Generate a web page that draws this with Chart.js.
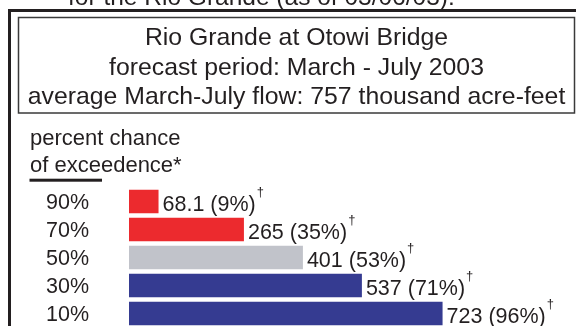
<!DOCTYPE html>
<html>
<head>
<meta charset="utf-8">
<script src="https://cdn.jsdelivr.net/npm/chart.js@4/dist/chart.umd.min.js"></script>
<style>
html,body{margin:0;padding:0;background:#fff;overflow:hidden;width:576px;height:326px}
#wrap{position:relative;width:576px;height:340px}
canvas{display:block}
</style>
</head>
<body>
<div id="wrap"><canvas id="c"></canvas></div>
<script>
// ---- data ----
const categories = ['90%', '70%', '50%', '30%', '10%'];
const flows = [68.1, 265, 401, 537, 723];               // thousand acre-feet
const percentOfAverage = [9, 35, 53, 71, 96];           // % of 757 average
const barColors = ['#EC2A2E', '#EC2A2E', '#C1C3CA', '#353B91', '#353B91'];
const titleLines = ['Rio Grande at Otowi Bridge', 'forecast period: March - July 2003', 'average March-July flow: 757 thousand acre-feet'];
const captionText = 'for the Rio Grande (as of 03/06/03):';
const headerLines = ['percent chance', 'of exceedence*'];
const footMark = '\u2020';

const FONT = '"Liberation Sans", Arial, Helvetica, sans-serif';
const INK = '#231F20';

const decor = {
  id: 'decor',
  beforeDraw(chart) {
    const ctx = chart.ctx;
    ctx.save();
    ctx.fillStyle = '#fff';
    ctx.fillRect(0, 0, chart.width, chart.height);
    ctx.fillStyle = INK;
    ctx.font = '24.5px ' + FONT;
    ctx.textAlign = 'left';
    ctx.textBaseline = 'alphabetic';
    ctx.fillText(captionText, 68, 5);
    // outer frame
    ctx.fillRect(8, 9, 3, chart.height);
    ctx.fillRect(8, 9, chart.width, 3);
    // inner title box
    ctx.strokeStyle = '#3a3a3a';
    ctx.lineWidth = 1.5;
    ctx.strokeRect(18.5, 17.5, 556, 95.5);
    ctx.textAlign = 'center';
    ctx.font = '24.8px ' + FONT;
    [44.5, 74.5, 104].forEach((y, i) => ctx.fillText(titleLines[i], 296.5, y));
    // header
    ctx.textAlign = 'left';
    ctx.font = '22px ' + FONT;
    ctx.fillText(headerLines[0], 30, 145);
    ctx.fillText(headerLines[1], 30, 171.7);
    ctx.fillRect(29.5, 178.7, 72.5, 3);
    ctx.restore();
  },
  afterDatasetsDraw(chart) {
    const ctx = chart.ctx;
    const meta = chart.getDatasetMeta(0);
    ctx.save();
    ctx.fillStyle = INK;
    ctx.textAlign = 'left';
    ctx.textBaseline = 'alphabetic';
    meta.data.forEach((el, i) => {
      const txt = String(flows[i]) + ' (' + percentOfAverage[i] + '%)';
      const x = el.x + 4;
      const base = el.y + 9.2;
      ctx.font = '21.5px ' + FONT;
      ctx.fillText(txt, x, base);
      const w = ctx.measureText(txt).width;
      ctx.font = '13px ' + FONT;
      ctx.fillText(footMark, x + w + 1, base - 14.5);
    });
    ctx.restore();
  }
};

new Chart(document.getElementById('c'), {
  type: 'bar',
  data: {
    labels: categories,
    datasets: [{
      data: flows,
      backgroundColor: barColors,
      borderWidth: 0,
      categoryPercentage: 1,
      barPercentage: 0.84
    }]
  },
  options: {
    indexAxis: 'y',
    responsive: true,
    maintainAspectRatio: false,
    animation: false,
    devicePixelRatio: 1,
    layout: { padding: { top: 187.5, bottom: 12.5, left: 0, right: 13.3 } },
    plugins: { legend: { display: false }, tooltip: { enabled: false }, title: { display: false } },
    scales: {
      x: { display: false, min: 0, max: 1000 },
      y: {
        type: 'category',
        grid: { display: false, drawTicks: false },
        border: { display: false },
        afterFit(scale) { scale.width = 129; scale.paddingTop = 0; scale.paddingBottom = 0; },
        ticks: {
          autoSkip: false,
          padding: 40,
          labelOffset: 2,
          color: INK,
          font: { family: FONT, size: 21.5 }
        }
      }
    }
  },
  plugins: [decor]
});
</script>
</body>
</html>
